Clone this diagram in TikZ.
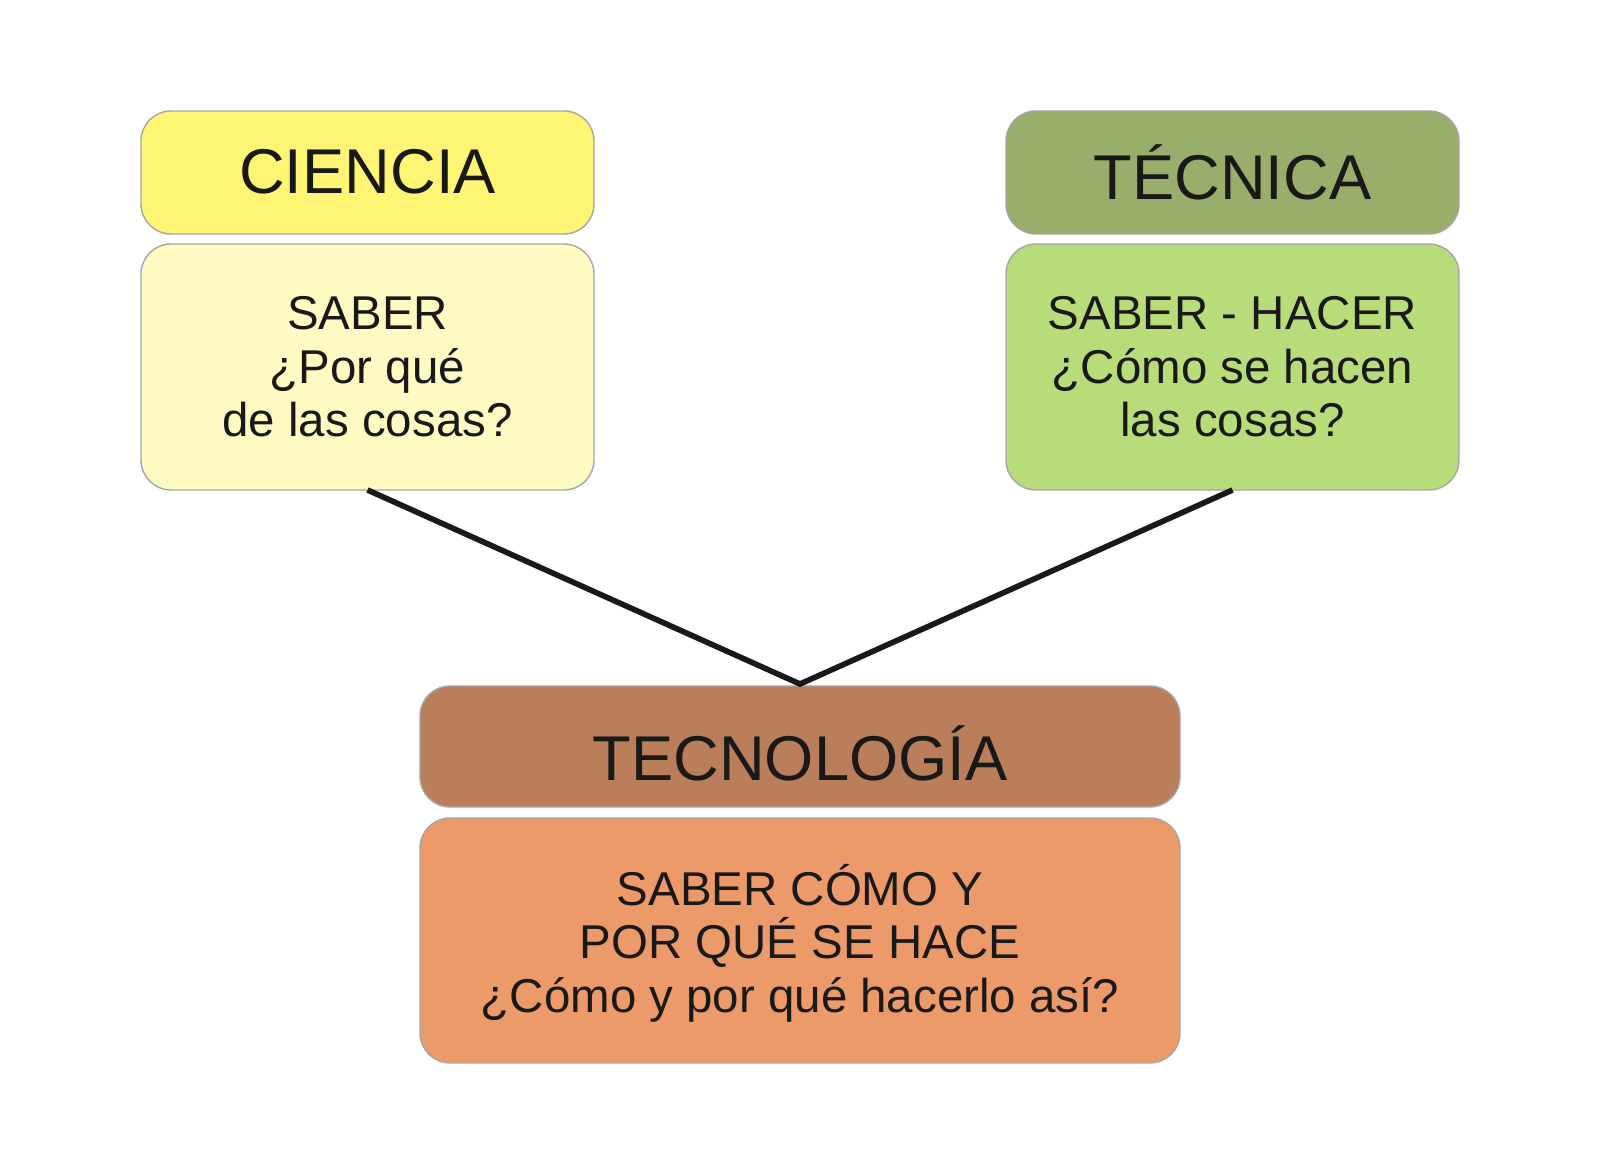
\documentclass[tikz,border=0pt]{standalone}
\usepackage{fontspec}
\setmainfont{Liberation Sans}
\begin{document}
\begin{tikzpicture}[x=1cm,y=1cm,
  boxs/.style={draw=black!35,line width=0.4pt,rounded corners=0.3cm,inner sep=0pt},
  tit/.style={font=\fontsize{18}{20}\selectfont,text=black!90},
  bod/.style={font=\fontsize{13.5}{15.2}\selectfont,align=center,text=black!90}]
\useasboundingbox (0,0) rectangle (16,11.75);
\definecolor{cy}{HTML}{FFF575}
\definecolor{cpy}{HTML}{FDFBC2}
\definecolor{cdg}{HTML}{9AAE6B}
\definecolor{clg}{HTML}{B8DC7A}
\definecolor{cbr}{HTML}{BA7F5A}
\definecolor{cor}{HTML}{ED9A6A}
% Ciencia
\filldraw[boxs,fill=cy] (1.41,9.41) rectangle (5.94,10.64);
\node[tit] (t1) at (3.675,10.03) {CIENCIA};
\filldraw[boxs,fill=cpy] (1.41,6.85) rectangle (5.94,9.31);
\node[bod] (b1) at (3.675,8.08) {SABER\\¿Por qué\\de las cosas?};
% Tecnica
\filldraw[boxs,fill=cdg] (10.06,9.41) rectangle (14.59,10.64);
\node[tit] (t2) at (12.325,10.03) {TÉCNICA};
\filldraw[boxs,fill=clg] (10.06,6.85) rectangle (14.59,9.31);
\node[bod] (b2) at (12.325,8.08) {SABER - HACER\\¿Cómo se hacen\\las cosas?};
% Tecnologia
\filldraw[boxs,fill=cbr] (4.20,3.68) rectangle (11.80,4.89);
\node[tit] (t3) at (8.0,4.22) {TECNOLOGÍA};
\filldraw[boxs,fill=cor] (4.20,1.12) rectangle (11.80,3.57);
\node[bod] (b3) at (8.0,2.32) {SABER CÓMO Y\\POR QUÉ SE HACE\\¿Cómo y por qué hacerlo así?};
\coordinate (c1) at (3.675,6.85);
\coordinate (c2) at (12.325,6.85);
\coordinate (c3) at (8.0,4.91);
\draw[line width=1.6pt,black!90] (c1) -- (c3) -- (c2);
\end{tikzpicture}
\end{document}
